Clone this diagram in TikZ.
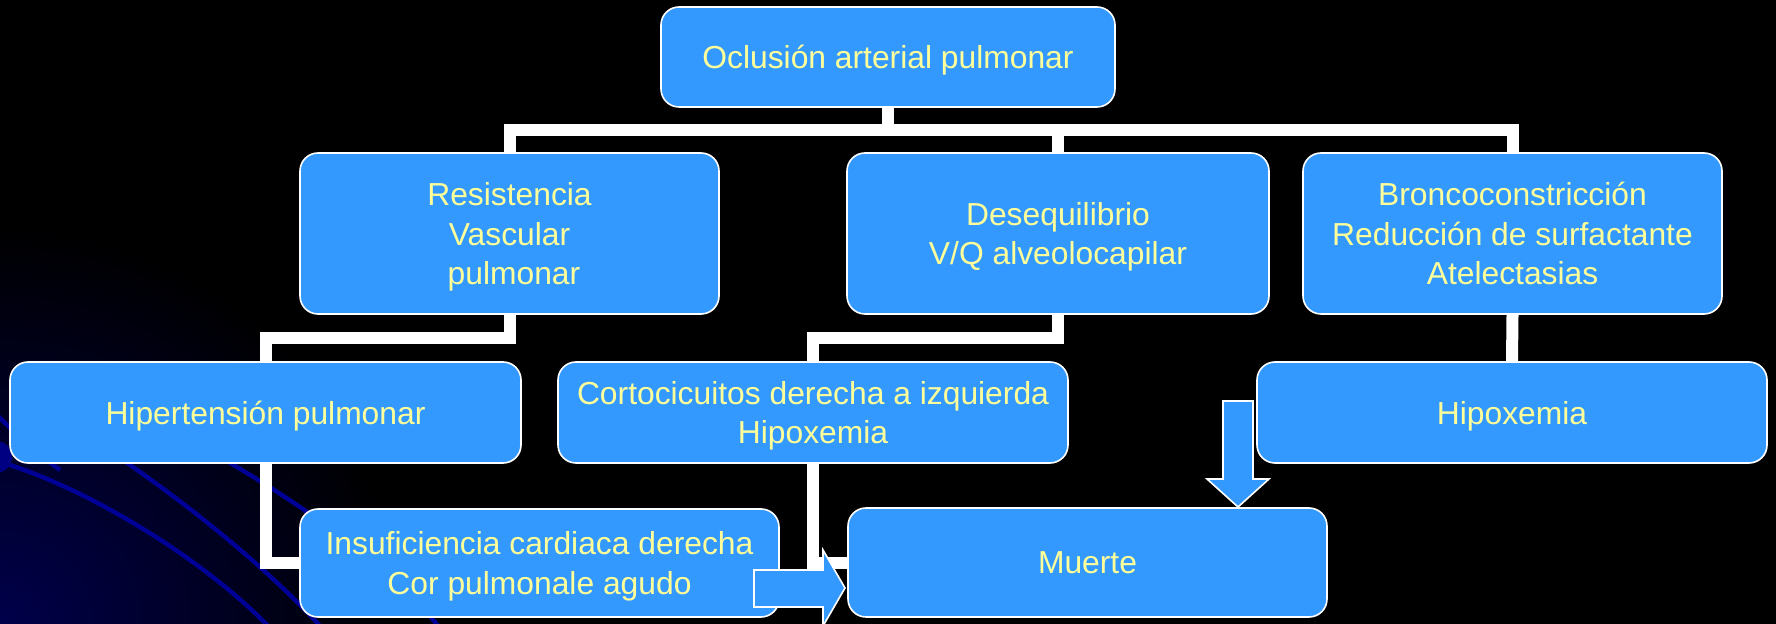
\documentclass[tikz,border=0pt]{standalone}
\usepackage{fontspec}
\setmainfont{Liberation Sans}
\usetikzlibrary{calc}
\definecolor{boxblue}{RGB}{51,153,255}
\definecolor{txtyellow}{RGB}{255,255,153}
\definecolor{curveblue}{RGB}{0,0,150}
\definecolor{glowc}{RGB}{0,0,75}
\definecolor{dotblue}{RGB}{0,0,130}
\pgfdeclareradialshading{glow}{\pgfpoint{0bp}{0bp}}{color(0bp)=(glowc); color(25bp)=(black); color(50bp)=(black)}
\tikzset{
  box/.style={draw=white, line width=0.8pt, fill=boxblue, rounded corners=9pt,
    text=txtyellow, align=center, inner sep=0pt, text depth=0pt,
    font=\fontsize{15.9pt}{19.7pt}\selectfont},
  conn/.style={draw=white, line width=6pt, line join=miter},
  bgcurve/.style={draw=curveblue, line width=2.2pt},
  blockarrow/.style={draw=white, line width=0.8pt, fill=boxblue, line join=miter}
}
\begin{document}
\begin{tikzpicture}[x=0.5pt, y=-0.5pt]
\useasboundingbox (0,0) rectangle (1776,624);
\fill[black] (0,0) rectangle (1776,624);
\begin{scope}
  \clip (0,0) rectangle (1776,624);
  \shade[shading=glow] (0,624) circle (400);
  \draw[bgcurve] (-5,413) .. controls (10,428) and (30,448) .. (60,470);
  \draw[bgcurve] (0,462) .. controls (80,485) and (200,555) .. (270,628);
  \draw[bgcurve] (90,438) .. controls (170,490) and (260,560) .. (322,628);
  \draw[bgcurve] (190,440) .. controls (280,490) and (380,555) .. (440,628);
  \fill[dotblue] (-4,457) circle (16);
\end{scope}

% boxes
\node[box, minimum width=227pt, minimum height=50pt] (top) at (888,57) {Oclusión arterial pulmonar};
\node[box, text depth=-2.5pt, minimum width=209.5pt, minimum height=80.5pt] (res) at (509.5,233.5) {Resistencia\\Vascular\\\hspace*{0.28em}pulmonar};
\node[box, minimum width=211pt, minimum height=80.5pt] (des) at (1058,233.5) {Desequilibrio\\V/Q alveolocapilar};
\node[box, text depth=-2.5pt, minimum width=209.5pt, minimum height=80.5pt] (bro) at (1512.5,233.5) {Broncoconstricción\\Reducción de surfactante\\Atelectasias};
\node[box, minimum width=255.5pt, minimum height=50.5pt] (hip) at (265.5,412.5) {Hipertensión pulmonar};
\node[box, text depth=-1pt, minimum width=255pt, minimum height=50.5pt] (cor) at (813,412.5) {Cortocicuitos derecha a izquierda\\Hipoxemia};
\node[box, minimum width=255pt, minimum height=50.5pt] (hpx) at (1512,412.5) {Hipoxemia};
\node[box, text depth=-1pt, minimum width=239.5pt, minimum height=54pt] (ins) at (539.5,563) {Insuficiencia cardiaca derecha\\Cor pulmonale agudo};
\node[box, minimum width=239.5pt, minimum height=54.5pt] (mue) at (1087.5,562.5) {Muerte};

% connector levels
\coordinate (bar) at (0,130);
\coordinate (midbar) at (0,338);

\draw[conn] (top.south) -- (top.south |- bar);
\draw[conn] (res.north) -- (res.north |- bar) -- (bro.north |- bar) -- (bro.north);
\draw[conn] (des.north) -- (des.north |- bar);
\draw[conn] (res.south) -- (res.south |- midbar) -- (hip.north |- midbar) -- (hip.north);
\draw[conn] (des.south) -- (des.south |- midbar) -- (cor.north |- midbar) -- (cor.north);
\draw[conn] (bro.south) -- (hpx.north);
\draw[conn] (hip.south) -- (hip.south |- ins.west) -- (ins.west);
\draw[conn] (cor.south) -- (cor.south |- mue.west) -- (mue.west);

% block arrows
\draw[blockarrow] (754,570) -- (823,570) -- (823,550) -- (845,588) -- (823,626) -- (823,607) -- (754,607) -- cycle;
\draw[blockarrow] (1223,401) -- (1253,401) -- (1253,479) -- (1269,479) -- (1238,507) -- (1207,479) -- (1223,479) -- cycle;
\end{tikzpicture}
\end{document}
